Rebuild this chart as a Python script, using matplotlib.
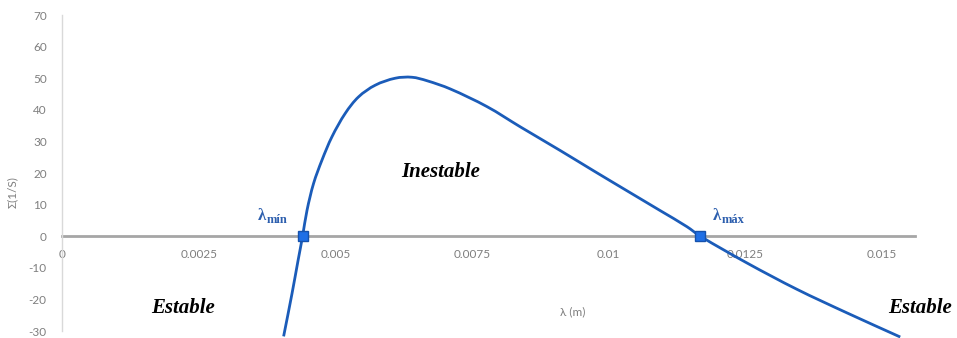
import matplotlib
matplotlib.use("Agg")
import matplotlib.pyplot as plt
from matplotlib.path import Path
from matplotlib.patches import PathPatch
import numpy as np

# Growth rate of the perturbation versus wavelength
lam = [0.004053, 0.004206, 0.004318, 0.004400, 0.004481, 0.004601, 0.004755,
       0.004938, 0.005181, 0.005424, 0.005730, 0.006096, 0.006401, 0.006675,
       0.007101, 0.007773, 0.008382, 0.009113, 0.009722, 0.01033, 0.01094,
       0.01143, 0.011673, 0.01253, 0.01344, 0.01436, 0.01533]
sigma = [-31.7, -18.2, -7.6, 0.0, 8.2, 16.7, 24.1,
         31.5, 38.9, 44.1, 47.8, 50.0, 50.3, 49.2,
         46.6, 41.0, 34.6, 27.1, 20.7, 14.4, 8.1,
         3.0, 0.0, -8.5, -16.8, -24.3, -31.9]

# Marginal stability points
lam_crit = [0.004400, 0.011673]
sigma_crit = [0.0, 0.0]
crit_names = ["mín", "máx"]
crit_offsets = [(-32, 12), (9, 12)]

x_ticks = [0, 0.0025, 0.005, 0.0075, 0.01, 0.0125, 0.015]
x_tick_labels = ["0", "0.0025", "0.005", "0.0075", "0.01", "0.0125", "0.015"]
y_ticks = list(range(-30, 71, 10))

LINE = "#1b5cb9"
TICK_GREY = "#7f7f7f"
plt.rcParams["axes.unicode_minus"] = False

fig = plt.figure(figsize=(9.57, 3.38), dpi=100)
ax = fig.add_axes([62 / 957, 1 - 331 / 338, (915 - 62) / 957, (331 - 15) / 338])
ax.set_xlim(0, 0.0156)
ax.set_ylim(-30, 70)


def smooth_path(xs, ys, axes):
    """Smooth Bezier path through the points, with tangents sized in screen units."""
    pts = np.column_stack([xs, ys])
    disp = axes.transData.transform(pts)
    n = len(pts)
    tang = np.zeros_like(disp)
    for i in range(n):
        a = disp[max(i - 1, 0)]
        b = disp[min(i + 1, n - 1)]
        d = b - a
        tang[i] = d / np.linalg.norm(d)
    verts = [disp[0]]
    codes = [Path.MOVETO]
    for i in range(n - 1):
        seg = np.linalg.norm(disp[i + 1] - disp[i]) / 3.0
        verts += [disp[i] + tang[i] * seg, disp[i + 1] - tang[i + 1] * seg,
                  disp[i + 1]]
        codes += [Path.CURVE4] * 3
    verts = axes.transData.inverted().transform(np.array(verts))
    return Path(verts, codes)


curve = PathPatch(smooth_path(lam, sigma, ax), facecolor="none", edgecolor=LINE,
                  lw=2.0, zorder=3, clip_on=False, capstyle="butt")
ax.add_patch(curve)

ax.plot(lam_crit, sigma_crit, ls="none", marker="s", ms=7,
        mfc="#1f6fe6", mec="#1652ad", mew=1.0, zorder=4)

# Axes styling
for s in ["top", "right"]:
    ax.spines[s].set_visible(False)
ax.spines["bottom"].set_position(("data", 0))
ax.spines["bottom"].set_color("#a6a6a6")
ax.spines["bottom"].set_linewidth(2.0)
ax.spines["bottom"].set_zorder(1)
ax.spines["left"].set_color("#d9d9d9")
ax.spines["left"].set_linewidth(1.0)

ax.set_xticks(x_ticks)
ax.set_xticklabels(x_tick_labels)
ax.set_yticks(y_ticks)
ax.tick_params(axis="both", length=0, colors=TICK_GREY, labelsize=8.5)
ax.tick_params(axis="y", pad=11)
ax.tick_params(axis="x", pad=9)
for lbl in ax.get_xticklabels() + ax.get_yticklabels():
    lbl.set_family("Lato")

fig.text(12 / 957, 1 - 192 / 338, "Σ(1/S)", rotation=90, ha="center",
         va="center", color=TICK_GREY, fontsize=8.5, family="Lato")
ax.text(0.009334, -24.0, "λ (m)", ha="center", va="center",
        color=TICK_GREY, fontsize=8.5, family="Lato")

region_font = dict(family="Liberation Serif", fontweight="bold",
                   fontstyle="italic", fontsize=15, color="black")
ax.text(0.006920, 20.3, "Inestable", ha="center", va="center", **region_font)
ax.text(0.002218, -22.7, "Estable", ha="center", va="center", **region_font)
ax.text(0.01570, -22.7, "Estable", ha="center", va="center", **region_font)

# λ labels beside the marginal points
label_color = "#2d5fae"
for x0, y0, name, (dx, dy) in zip(lam_crit, sigma_crit, crit_names, crit_offsets):
    ax.annotate("λ", xy=(x0, y0), xytext=(dx, dy), textcoords="offset points",
                ha="left", va="baseline", family="Liberation Serif",
                fontweight="bold", fontsize=12, color=label_color)
    ax.annotate(name, xy=(x0, y0), xytext=(dx + 6.5, dy - 2.5),
                textcoords="offset points", ha="left", va="baseline",
                family="Liberation Serif", fontweight="bold", fontsize=9,
                color=label_color)

fig.savefig("out.png", dpi=100)
